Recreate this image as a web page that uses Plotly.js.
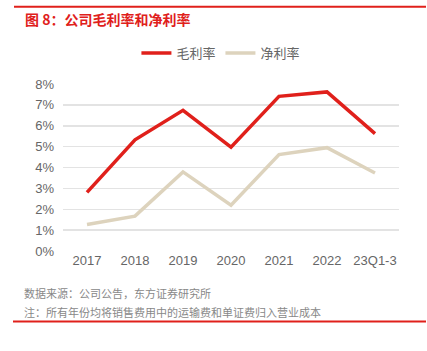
<!DOCTYPE html>
<html>
<head>
<meta charset="utf-8">
<script src="https://cdn.plot.ly/plotly-3.0.1.min.js"></script>
<style>html,body{margin:0;padding:0;background:#fff;}#chart{width:427px;height:351px;}</style>
</head>
<body>
<div id="chart"></div>
<script>
const categories = ["2017", "2018", "2019", "2020", "2021", "2022", "23Q1-3"];
const grossMargin = [2.81, 5.33, 6.74, 4.97, 7.41, 7.62, 5.62];
const netMargin = [1.27, 1.67, 3.79, 2.19, 4.62, 4.95, 3.74];
const yTicks = [0, 1, 2, 3, 4, 5, 6, 7, 8];

const FONT = "Liberation Sans, Arial, Noto Sans CJK SC, sans-serif";
const CJK = "Noto Sans CJK SC, sans-serif";

const traces = [
  {x: categories, y: grossMargin, type: "scatter", mode: "lines", name: "毛利率",
   line: {color: "#e0201b", width: 3.5}},
  {x: categories, y: netMargin, type: "scatter", mode: "lines", name: "净利率",
   line: {color: "#ddd3bd", width: 3.5}}
];

const px = v => (v - 63) / 336;
const py = v => (251.5 - v) / 167.5;

const layout = {
  width: 427, height: 351,
  margin: {l: 63, r: 28, t: 84, b: 99.5},
  paper_bgcolor: "#fff", plot_bgcolor: "#fff",
  font: {family: FONT, color: "#666", size: 13},
  showlegend: true,
  legend: {orientation: "h", x: 0.47, xanchor: "center", y: py(53), yanchor: "middle",
           font: {family: CJK, size: 13, color: "#666"}, itemwidth: 30, tracegroupgap: 0},
  xaxis: {type: "category", range: [-0.5, 6.5], showgrid: false, zeroline: false,
          showline: false, ticks: "", tickfont: {size: 13, color: "#666"}, fixedrange: true},
  yaxis: {range: [0, 8], tickvals: yTicks, ticktext: yTicks.map(v => v + "%"),
          showgrid: true, gridcolor: "#e3e3e3", gridwidth: 1.5, zeroline: false,
          showline: false, ticks: "", ticklabelstandoff: 8, tickfont: {size: 13, color: "#666"}, fixedrange: true},
  shapes: [
    {type: "line", xref: "paper", yref: "paper", x0: px(14), x1: px(426), y0: py(6.5), y1: py(6.5),
     line: {color: "#e0201b", width: 2}},
    {type: "line", xref: "paper", yref: "paper", x0: px(13), x1: px(426), y0: py(322.3), y1: py(322.3),
     line: {color: "#e0201b", width: 2}}
  ],
  annotations: [
    {text: "<b>图 8：公司毛利率和净利率</b>", xref: "paper", yref: "paper", x: px(23), y: py(19),
     xanchor: "left", yanchor: "middle", showarrow: false,
     font: {family: CJK, size: 14, color: "#e0201b"}},
    {text: "数据来源：公司公告，东方证券研究所", xref: "paper", yref: "paper", x: px(22), y: py(294),
     xanchor: "left", yanchor: "middle", showarrow: false,
     font: {family: CJK, size: 11, color: "#888"}},
    {text: "注：所有年份均将销售费用中的运输费和单证费归入营业成本", xref: "paper", yref: "paper", x: px(22), y: py(313),
     xanchor: "left", yanchor: "middle", showarrow: false,
     font: {family: CJK, size: 11, color: "#888"}}
  ]
};

Plotly.newPlot("chart", traces, layout, {displayModeBar: false, staticPlot: true});
</script>
</body>
</html>
